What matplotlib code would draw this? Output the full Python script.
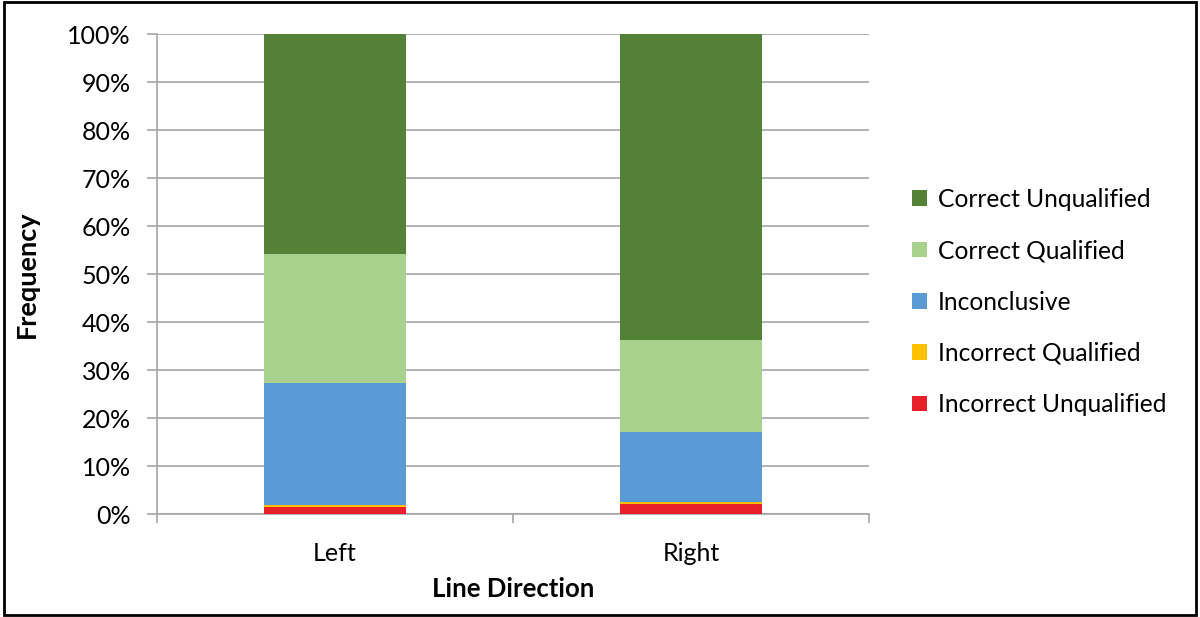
import matplotlib.pyplot as plt
import numpy as np
from matplotlib.ticker import PercentFormatter

# Share of outcomes (%) per line direction
directions = ['Left', 'Right']
outcomes = ['Incorrect Unqualified', 'Incorrect Qualified', 'Inconclusive',
            'Correct Qualified', 'Correct Unqualified']
incorrect_unqualified = [1.4, 2.0]
incorrect_qualified = [0.5, 0.4]
inconclusive = [25.4, 14.7]
correct_qualified = [26.9, 19.1]
correct_unqualified = [45.8, 63.8]

colors = ['#E8202A', '#FFC000', '#5B9BD5', '#A9D18E', '#538135']
series = [incorrect_unqualified, incorrect_qualified, inconclusive,
          correct_qualified, correct_unqualified]

plt.rcParams['font.family'] = ['Lato', 'DejaVu Sans']

fig = plt.figure(figsize=(12, 6.17), dpi=100)
ax = fig.add_axes([157 / 1200, 103 / 617, 712 / 1200, 480 / 617])

x = np.arange(len(directions))
bottom = np.zeros(len(directions))
for name, vals, c in zip(outcomes, series, colors):
    ax.bar(x, vals, width=0.4, bottom=bottom, color=c, label=name, zorder=3)
    bottom += np.array(vals)

ax.set_xlim(-0.5, 1.5)
ax.set_ylim(0, 100)
ax.set_yticks(np.arange(0, 101, 10))
ax.yaxis.set_major_formatter(PercentFormatter(decimals=0))
ax.yaxis.grid(True, color='#A6A6A6', linewidth=1.2, zorder=0)

ax.set_xticks(x)
ax.set_xticklabels(directions)
ax.set_xticks([-0.5, 0.5, 1.5], minor=True)
ax.tick_params(axis='x', which='major', length=0, pad=20, labelsize=18)
ax.tick_params(axis='x', which='minor', length=6.5, color='#A6A6A6', width=1.2)
ax.tick_params(axis='y', length=7, color='#A6A6A6', width=1.2, labelsize=18, pad=12)

for s in ['top', 'right']:
    ax.spines[s].set_visible(False)
for s in ['left', 'bottom']:
    ax.spines[s].set_color('#A6A6A6')
    ax.spines[s].set_linewidth(1.2)

ax.set_xlabel('Line Direction', fontsize=18.5, fontweight='bold', labelpad=9)
ax.set_ylabel('Frequency', fontsize=19.5, fontweight='bold', labelpad=20)

handles, labels = ax.get_legend_handles_labels()
fig.legend(handles[::-1], labels[::-1], loc='center left',
           bbox_to_anchor=(890 / 1200, 1 - 302 / 617), frameon=False,
           fontsize=17.7, handlelength=0.6, handleheight=0.6, labelspacing=1.15,
           handletextpad=0.45)

# outer frame
fig.patches.append(plt.Rectangle((0.003, 0.004), 0.994, 0.992, transform=fig.transFigure,
                                 fill=False, edgecolor='black', linewidth=2))

fig.savefig('out.png', dpi=100)
